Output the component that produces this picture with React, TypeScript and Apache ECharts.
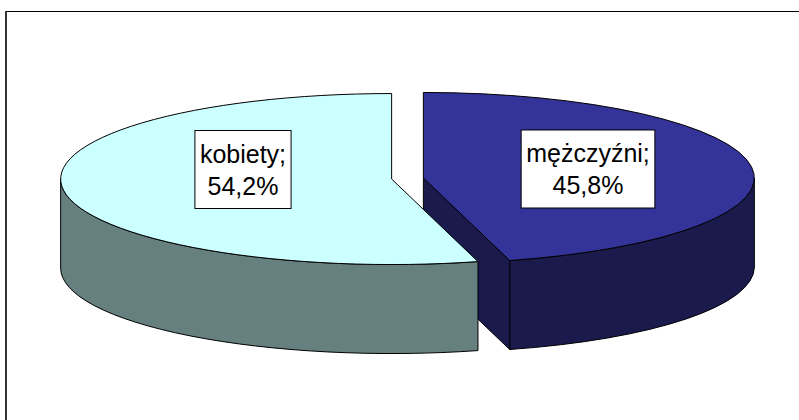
import React, { useEffect, useRef } from "react";
import * as echarts from "echarts";

const categories = ["mężczyźni", "kobiety"];
const shares = [45.8, 54.2];
const topColors = ["#333399", "#CCFFFF"];
const wallColors = ["#1A1A4D", "#668080"];

const CX = 407.5;
const CY = 178.5;
const RX = 331;
const RY = 85.5;
const DEPTH = 89;
const EXPLODE = 16;
const labelCenters = [
  [588, 169],
  [243, 169.5],
];

const total = shares.reduce((a, b) => a + b, 0);
const startAngle = (i: number) =>
  (shares.slice(0, i).reduce((a, b) => a + b, 0) / total) * Math.PI * 2;

function renderSlice(params: any, api: any) {
  const i = params.dataIndex;
  const a0 = startAngle(i);
  const a1 = a0 + (api.value(0) / total) * Math.PI * 2;
  const mid = (a0 + a1) / 2;
  const cx = CX + EXPLODE * Math.sin(mid);
  const cy = CY - EXPLODE * Math.cos(mid) * (RY / RX);
  const pt = (a: number, dy = 0) =>
    `${(cx + RX * Math.sin(a)).toFixed(2)} ${(cy - RY * Math.cos(a) + dy).toFixed(2)}`;
  const arc = (to: number, large: number, sweep: number, dy = 0) =>
    `A ${RX} ${RY} 0 ${large} ${sweep} ${pt(to, dy)}`;
  const large = a1 - a0 > Math.PI ? 1 : 0;
  const lineStyle = { stroke: "#000", lineWidth: 1, lineJoin: "round" };
  const children: any[] = [];

  // outer wall: only the front half of the rim (from 90° to 270°) is visible
  const w0 = Math.max(a0, Math.PI / 2);
  const w1 = Math.min(a1, (Math.PI * 3) / 2);
  if (w1 > w0) {
    children.push({
      type: "path",
      shape: {
        pathData: `M ${pt(w0)} ${arc(w1, 0, 1)} L ${pt(w1, DEPTH)} ${arc(w0, 0, 0, DEPTH)} Z`,
      },
      style: { fill: wallColors[i], ...lineStyle },
    });
  }
  // radial wall at the slice's end: faces the viewer on the right-hand slice only
  if (a1 > Math.PI / 2 && a1 < Math.PI) {
    children.push({
      type: "path",
      shape: {
        pathData: `M ${cx} ${cy} L ${pt(a1)} L ${pt(a1, DEPTH)} L ${cx} ${cy + DEPTH} Z`,
      },
      style: { fill: wallColors[i], ...lineStyle },
    });
  }
  // top face
  children.push({
    type: "path",
    shape: { pathData: `M ${cx} ${cy} L ${pt(a0)} ${arc(a1, large, 1)} Z` },
    style: { fill: topColors[i], ...lineStyle },
  });
  // label
  children.push({
    type: "text",
    z2: 10,
    style: {
      x: labelCenters[i][0],
      y: labelCenters[i][1],
      text: `${categories[i]};\n${String(api.value(0)).replace(".", ",")}%`,
      font: '25px "Liberation Sans", Arial, sans-serif',
      lineHeight: 32,
      fill: "#000",
      align: "center",
      verticalAlign: "middle",
      backgroundColor: "#fff",
      borderColor: "#000",
      borderWidth: 1,
      padding: [7, 4.5, 6, 4.5],
    },
  });
  return { type: "group", children };
}

export default function App() {
  const ref = useRef<HTMLDivElement>(null);
  useEffect(() => {
    document.body.style.margin = "0";
    document.body.style.overflow = "hidden";
    const chart = echarts.init(ref.current!, null, { renderer: "svg" });
    chart.setOption({
      animation: false,
      backgroundColor: "#fff",
      graphic: [
        { type: "rect", shape: { x: 5, y: 11, width: 794, height: 1 }, style: { fill: "#000" } },
        { type: "rect", shape: { x: 5, y: 11, width: 2, height: 409 }, style: { fill: "#333" } },
      ],
      series: [
        {
          type: "custom",
          coordinateSystem: "none",
          renderItem: renderSlice,
          data: shares.map((v, i) => ({ name: categories[i], value: [v] })),
        },
      ],
    });
    return () => chart.dispose();
  }, []);
  return <div ref={ref} style={{ width: 799, height: 420 }} />;
}
